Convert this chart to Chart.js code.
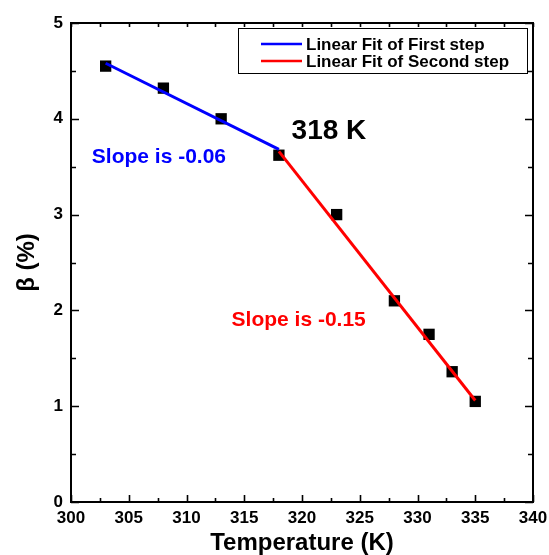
<!DOCTYPE html>
<html>
<head>
<meta charset="utf-8">
<script src="https://cdn.jsdelivr.net/npm/chart.js@4/dist/chart.umd.min.js"></script>
<style>
  html, body { margin: 0; padding: 0; background: #fff; }
  #wrap { width: 549px; height: 555px; }
</style>
</head>
<body>
<div id="wrap"><canvas id="chart"></canvas></div>
<script>
// Measured points
const temps = [303, 308, 313, 318, 323, 328, 331, 333, 335];
const beta = [4.55, 4.32, 4.00, 3.62, 3.00, 2.10, 1.75, 1.36, 1.05];

// Linear fits (end points of each fitted segment)
const fit1X = [303, 318];
const fit1Y = [4.58, 3.68];
const fit2X = [318, 335];
const fit2Y = [3.66, 1.06];

const fitLabels = ['Linear Fit of First step', 'Linear Fit of Second step'];

// Axis ticks
const xTicks = [300, 305, 310, 315, 320, 325, 330, 335, 340];
const yTicks = [0, 1, 2, 3, 4, 5];

// Text notes placed in data space
const notes = [
    { text: 'Slope is -0.06', x: 301.8, y: 3.6, color: '#0000ff', size: 21 },
    { text: '318 K', x: 319.1, y: 3.87, color: '#000000', size: 28 },
    { text: 'Slope is -0.15', x: 313.9, y: 1.9, color: '#ff0000', size: 21 }
];

const FONT = '"Liberation Sans", Arial, sans-serif';

const toPts = (xs, ys) => xs.map((x, i) => ({ x: x, y: ys[i] }));

// Frame with inward ticks, legend box and text notes
const decorations = {
    id: 'decorations',
    afterDraw(chart) {
        const ctx = chart.ctx;
        const { left, right, top, bottom } = chart.chartArea;
        const xs = chart.scales.x;
        const ys = chart.scales.y;
        ctx.save();
        ctx.strokeStyle = '#000';
        ctx.lineWidth = 2;
        ctx.strokeRect(left, top, right - left, bottom - top);

        ctx.lineWidth = 1.6;
        ctx.beginPath();
        for (let v = xs.min; v <= xs.max + 1e-6; v += 2.5) {
            const px = Math.round(xs.getPixelForValue(v)) + 0.5;
            const major = Math.abs(v % 5) < 1e-6;
            ctx.moveTo(px, bottom);
            ctx.lineTo(px, bottom - (major ? 7 : 4));
            ctx.moveTo(px, top);
            ctx.lineTo(px, top + 4);
        }
        for (let v = ys.min; v <= ys.max + 1e-6; v += 0.5) {
            const py = Math.round(ys.getPixelForValue(v)) + 0.5;
            const major = Math.abs(v % 1) < 1e-6;
            ctx.moveTo(left, py);
            ctx.lineTo(left + (major ? 8 : 5), py);
            ctx.moveTo(right, py);
            ctx.lineTo(right - (major ? 8 : 5), py);
        }
        ctx.stroke();

        // legend box
        const fits = chart.data.datasets.filter(d => d.isFit);
        const bx = right - 295, by = top + 5, bw = 289, bh = 45;
        ctx.fillStyle = '#fff';
        ctx.fillRect(bx, by, bw, bh);
        ctx.lineWidth = 1;
        ctx.strokeRect(bx + 0.5, by + 0.5, bw, bh);
        ctx.font = 'bold 17px ' + FONT;
        ctx.textBaseline = 'middle';
        ctx.textAlign = 'left';
        fits.forEach((d, i) => {
            const ly = by + 16 + i * 17;
            ctx.strokeStyle = d.borderColor;
            ctx.lineWidth = 2.5;
            ctx.beginPath();
            ctx.moveTo(bx + 23, ly);
            ctx.lineTo(bx + 64, ly);
            ctx.stroke();
            ctx.fillStyle = '#000';
            ctx.fillText(d.label, bx + 68, ly + 1);
        });

        // notes
        notes.forEach(n => {
            ctx.font = 'bold ' + n.size + 'px ' + FONT;
            ctx.fillStyle = n.color;
            ctx.textBaseline = 'middle';
            ctx.fillText(n.text, xs.getPixelForValue(n.x), ys.getPixelForValue(n.y));
        });
        ctx.restore();
    }
};

new Chart(document.getElementById('chart'), {
    type: 'scatter',
    data: {
        datasets: [
            {
                label: 'beta',
                data: toPts(temps, beta),
                pointStyle: 'rect',
                pointRadius: 8,
                pointHoverRadius: 8,
                borderWidth: 0,
                backgroundColor: '#000',
                order: 2
            },
            {
                label: fitLabels[0],
                isFit: true,
                type: 'line',
                data: toPts(fit1X, fit1Y),
                borderColor: '#0000ff',
                borderWidth: 3,
                pointRadius: 0,
                fill: false,
                order: 1
            },
            {
                label: fitLabels[1],
                isFit: true,
                type: 'line',
                data: toPts(fit2X, fit2Y),
                borderColor: '#ff0000',
                borderWidth: 3,
                pointRadius: 0,
                fill: false,
                order: 1
            }
        ]
    },
    options: {
        responsive: true,
        maintainAspectRatio: false,
        animation: false,
        layout: { padding: { top: 23, right: 16, left: 0, bottom: 0 } },
        plugins: {
            legend: { display: false },
            tooltip: { enabled: false }
        },
        scales: {
            x: {
                type: 'linear',
                min: 300,
                max: 340,
                afterFit: s => { s.height = 53; s.paddingLeft = 0; s.paddingRight = 0; },
                afterBuildTicks: s => { s.ticks = xTicks.map(v => ({ value: v })); },
                grid: { display: false, drawTicks: false, tickLength: 0 },
                border: { display: false },
                ticks: {
                    padding: 6,
                    color: '#000',
                    font: { family: FONT, size: 17, weight: 'bold' }
                },
                title: {
                    display: true,
                    text: 'Temperature (K)',
                    color: '#000',
                    padding: 0,
                    font: { family: FONT, size: 24, weight: 'bold', lineHeight: 1 }
                }
            },
            y: {
                min: 0,
                max: 5,
                afterFit: s => { s.width = 71; s.paddingTop = 0; s.paddingBottom = 0; },
                afterBuildTicks: s => { s.ticks = yTicks.map(v => ({ value: v })); },
                grid: { display: false, drawTicks: false, tickLength: 0 },
                border: { display: false },
                ticks: {
                    padding: 8,
                    color: '#000',
                    font: { family: FONT, size: 17, weight: 'bold' }
                },
                title: {
                    display: true,
                    text: 'β (%)',
                    color: '#000',
                    padding: { top: 13, bottom: 0 },
                    font: { family: FONT, size: 24, weight: 'bold' }
                }
            }
        }
    },
    plugins: [decorations]
});
</script>
</body>
</html>
